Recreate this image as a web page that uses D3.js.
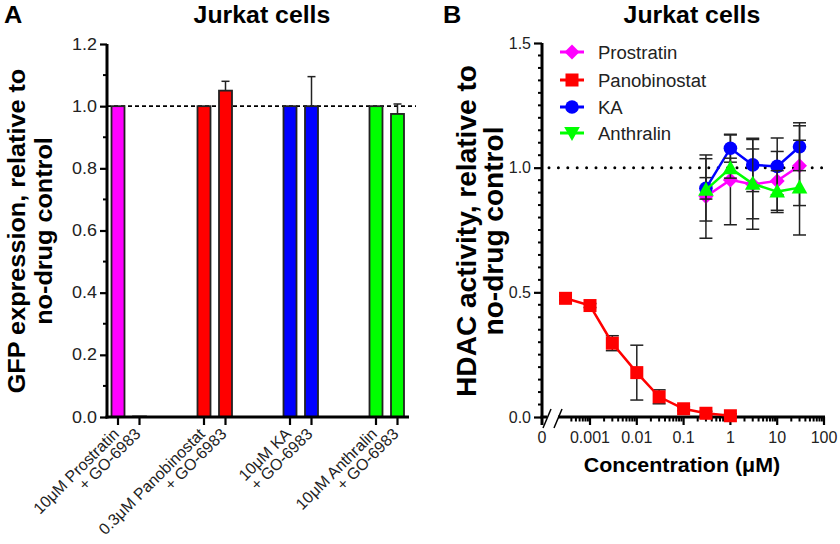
<!DOCTYPE html>
<html><head><meta charset="utf-8">
<script src="https://cdn.jsdelivr.net/npm/d3@7"></script>
<style>
body{margin:0;background:#fff;}
svg{font-family:"Liberation Sans",Arial,Helvetica,sans-serif;}
</style></head>
<body><svg id="c" width="840" height="544"></svg>
<script>
// ---------- Panel A data ----------
const barGroups = ["Prostratin","Panobinostat","KA","Anthralin"];
const barLabels = ["10\u03bcM Prostratin","+ GO-6983","0.3\u03bcM Panobinostat","+ GO-6983","10\u03bcM KA","+ GO-6983","10\u03bcM Anthralin","+ GO-6983"];
const barValues = [1.0, 0.003, 1.0, 1.05, 1.0, 1.0, 1.0, 0.975];
const barErrors = [0, 0, 0, 0.03, 0, 0.095, 0, 0.032];
const groupColors = ["#ff00ff","#ff0000","#0000ff","#00ff00"];
const yTicksA = [0,0.2,0.4,0.6,0.8,1.0,1.2];

// ---------- Panel B data ----------
const seriesNames = ["Prostratin","Panobinostat","KA","Anthralin"];
const seriesColors = ["#ff00ff","#ff0000","#0000ff","#00ff00"];
const concB = [0.3, 1, 3, 10, 30];
const prostratinVals = [0.884, 0.951, 0.933, 0.947, 1.008];
const prostratinErr  = [0.167, 0.18, 0.18, 0.118, 0.16];
const panoConc = [0.0003, 0.001, 0.003, 0.01, 0.03, 0.1, 0.3, 1];
const panoVals = [0.476, 0.447, 0.296, 0.178, 0.081, 0.033, 0.015, 0.005];
const panoErr  = [0.008, 0.008, 0.03, 0.11, 0.028, 0.008, 0.008, 0.008];
const kaVals = [0.917, 1.078, 1.011, 1.005, 1.084];
const kaErr  = [0.043, 0.056, 0.107, 0.114, 0.096];
const anthralinVals = [0.911, 0.998, 0.935, 0.904, 0.920];
const anthralinErr  = [0.125, 0.04, 0.14, 0.084, 0.19];
const yTicksB = [0,0.5,1.0,1.5];
const xTicksB = [0.001,0.01,0.1,1,10,100];
const xTickLabelsB = ["0.001","0.01","0.1","1","10","100"];

const svg = d3.select("#c");
const INK = "#000";

// stretch glyphs horizontally (reference typeface is wider than Arial)
function widen(sel, f){
  sel.each(function(){
    const L = this.getComputedTextLength();
    this.setAttribute("textLength", (L*f).toFixed(2));
    this.setAttribute("lengthAdjust","spacingAndGlyphs");
  });
}

// ================= Panel A =================
const A = svg.append("g");
const yA = d3.scaleLinear().domain([0,1.2]).range([417,44]);
const slotIdx = barValues.map((v,i)=>Math.floor(i/2)*4 + (i%2));
const xA = d3.scaleLinear().domain([0,13]).range([118,397.5]);
const barW = 13;

A.append("line").attr("x1",107).attr("x2",416).attr("y1",yA(1)).attr("y2",yA(1))
 .attr("stroke",INK).attr("stroke-width",1.8).attr("stroke-dasharray","4,3");

A.selectAll("rect.bar").data(barValues).enter().append("rect")
 .attr("x",(d,i)=>xA(slotIdx[i])-barW/2)
 .attr("y",d=>yA(d))
 .attr("width",barW)
 .attr("height",d=>yA(0)-yA(d))
 .attr("fill",(d,i)=>groupColors[Math.floor(i/2)])
 .attr("stroke",(d,i)=>d<0.01?"#888":"#222")
 .attr("stroke-width",1.8);

barValues.forEach((v,i)=>{
  if(barErrors[i]<=0) return;
  const x = xA(slotIdx[i]);
  A.append("line").attr("x1",x).attr("x2",x).attr("y1",yA(v)).attr("y2",yA(v+barErrors[i])).attr("stroke","#222").attr("stroke-width",1.5);
  A.append("line").attr("x1",x-4).attr("x2",x+4).attr("y1",yA(v+barErrors[i])).attr("y2",yA(v+barErrors[i])).attr("stroke","#222").attr("stroke-width",1.5);
});

const yAxisA = d3.axisLeft(yA).tickValues(yTicksA).tickSize(7).tickPadding(3).tickFormat(d3.format(".1f"));
const gyA = A.append("g").attr("transform","translate(107,0)").call(yAxisA);
gyA.select(".domain").attr("stroke",INK).attr("stroke-width",3).attr("d","M0,"+(yA(0)+1.5)+"V"+yA(1.2));
gyA.selectAll(".tick line").attr("stroke",INK).attr("stroke-width",2.2);
gyA.selectAll(".tick text").attr("font-size",16).attr("fill","#222");
widen(gyA.selectAll(".tick text"),1.12);
d3.range(0.1,1.2,0.2).forEach(v=>{
  A.append("line").attr("x1",103).attr("x2",107).attr("y1",yA(v)).attr("y2",yA(v)).attr("stroke",INK).attr("stroke-width",2);
});

A.append("line").attr("x1",105.5).attr("x2",409).attr("y1",yA(0)).attr("y2",yA(0)).attr("stroke",INK).attr("stroke-width",3);
barValues.forEach((v,i)=>{
  const x = xA(slotIdx[i]);
  A.append("line").attr("x1",x).attr("x2",x).attr("y1",yA(0)).attr("y2",yA(0)+8).attr("stroke",INK).attr("stroke-width",2.2);
  A.append("text").attr("transform","translate("+(x+2)+","+(yA(0)+18)+") rotate(-45)")
   .attr("text-anchor","end").attr("font-size",16).attr("fill","#222").text(barLabels[i]);
});

A.append("text").attr("x",4).attr("y",23).attr("font-size",23).attr("font-weight","bold").text("A").call(widen,1.1);
A.append("text").attr("x",262).attr("y",23).attr("text-anchor","middle").attr("font-size",23).attr("font-weight","bold").text("Jurkat cells").call(widen,1.08);
const ylabA = A.append("text").attr("transform","translate(0,231) rotate(-90)").attr("text-anchor","middle").attr("font-size",24).attr("font-weight","bold");
ylabA.append("tspan").attr("x",0).attr("y",25).text("GFP expression, relative to");
ylabA.append("tspan").attr("x",0).attr("y",52).text("no-drug control");
widen(ylabA.selectAll("tspan"),1.05);

// ================= Panel B =================
const B = svg.append("g");
const yB = d3.scaleLinear().domain([0,1.5]).range([417,43]);
const xB = d3.scaleLog().domain([0.001,100]).range([590,824]);
const axisX0 = 542;

B.append("line").attr("x1",549).attr("x2",826).attr("y1",yB(1)).attr("y2",yB(1))
 .attr("stroke",INK).attr("stroke-width",3).attr("stroke-linecap","round").attr("stroke-dasharray","0,9.4");

const yAxisB = d3.axisLeft(yB).tickValues(yTicksB).tickSize(8).tickPadding(3).tickFormat(d3.format(".1f"));
const gyB = B.append("g").attr("transform","translate("+axisX0+",0)").call(yAxisB);
gyB.select(".domain").attr("stroke",INK).attr("stroke-width",3).attr("d","M0,"+(yB(0)+8)+"V"+yB(1.5));
gyB.selectAll(".tick line").attr("stroke",INK).attr("stroke-width",2.2);
gyB.selectAll(".tick text").attr("font-size",16).attr("fill","#222");
d3.range(0.05,1.5,0.05).forEach(v=>{
  if(Math.abs(v*2-Math.round(v*2))<1e-6) return;
  B.append("line").attr("x1",axisX0-4).attr("x2",axisX0).attr("y1",yB(v)).attr("y2",yB(v)).attr("stroke",INK).attr("stroke-width",2);
});

const y0 = yB(0);
B.append("line").attr("x1",axisX0-1.5).attr("x2",547).attr("y1",y0).attr("y2",y0).attr("stroke",INK).attr("stroke-width",3);
B.append("line").attr("x1",558).attr("x2",825).attr("y1",y0).attr("y2",y0).attr("stroke",INK).attr("stroke-width",3);
B.append("line").attr("x1",543).attr("x2",551).attr("y1",y0+11).attr("y2",y0-8).attr("stroke",INK).attr("stroke-width",1.5);
B.append("line").attr("x1",554).attr("x2",562).attr("y1",y0+11).attr("y2",y0-8).attr("stroke",INK).attr("stroke-width",1.5);
B.append("text").attr("x",axisX0).attr("y",443).attr("text-anchor","middle").attr("font-size",16).attr("fill","#222").text("0");
xTicksB.forEach((t,i)=>{
  B.append("line").attr("x1",xB(t)).attr("x2",xB(t)).attr("y1",y0).attr("y2",y0+8).attr("stroke",INK).attr("stroke-width",2.2);
  B.append("text").attr("x",xB(t)).attr("y",443).attr("text-anchor","middle").attr("font-size",16).attr("fill","#222").text(xTickLabelsB[i]);
});
[0.0001,0.001,0.01,0.1,1,10].forEach(dec=>{
  for(let m=2;m<=9;m++){
    const v=dec*m;
    if(v<0.00035||v>100) continue;
    B.append("line").attr("x1",xB(v)).attr("x2",xB(v)).attr("y1",y0).attr("y2",y0+4.5).attr("stroke",INK).attr("stroke-width",2);
  }
});

function sym(type, g, x, y, color){
  if(type==="diamond"){
    g.append("path").attr("d",`M${x},${y-7.5}L${x+7.5},${y}L${x},${y+7.5}L${x-7.5},${y}Z`).attr("fill",color);
  } else if(type==="square"){
    g.append("rect").attr("x",x-6.5).attr("y",y-6.5).attr("width",13).attr("height",13).attr("fill",color);
  } else if(type==="circle"){
    g.append("circle").attr("cx",x).attr("cy",y).attr("r",6.8).attr("fill",color);
  } else if(type==="triUp"){
    g.append("path").attr("d",`M${x},${y-8}L${x+7.8},${y+6}L${x-7.8},${y+6}Z`).attr("fill",color);
  } else if(type==="triDown"){
    g.append("path").attr("d",`M${x},${y+8}L${x+7.8},${y-6}L${x-7.8},${y-6}Z`).attr("fill",color);
  }
}

const seriesData = [
  {name:seriesNames[0], color:seriesColors[0], xs:concB, ys:prostratinVals, es:prostratinErr, sym:"diamond", leg:"diamond"},
  {name:seriesNames[1], color:seriesColors[1], xs:panoConc, ys:panoVals, es:panoErr, sym:"square", leg:"square"},
  {name:seriesNames[2], color:seriesColors[2], xs:concB, ys:kaVals, es:kaErr, sym:"circle", leg:"circle"},
  {name:seriesNames[3], color:seriesColors[3], xs:concB, ys:anthralinVals, es:anthralinErr, sym:"triUp", leg:"triDown"}
];

const line = d3.line().x(d=>xB(d[0])).y(d=>yB(d[1]));
seriesData.forEach(s=>{
  const g = B.append("g");
  const pts = s.xs.map((x,i)=>[x,s.ys[i],s.es[i]]);
  pts.forEach(p=>{
    const x=xB(p[0]);
    g.append("line").attr("x1",x).attr("x2",x).attr("y1",yB(p[1]-p[2])).attr("y2",yB(p[1]+p[2])).attr("stroke","#222").attr("stroke-width",1.5);
    [p[1]-p[2],p[1]+p[2]].forEach(v=>g.append("line").attr("x1",x-6.5).attr("x2",x+6.5).attr("y1",yB(v)).attr("y2",yB(v)).attr("stroke","#222").attr("stroke-width",1.5));
  });
  g.append("path").attr("d",line(pts)).attr("fill","none").attr("stroke",s.color).attr("stroke-width",2.5);
  pts.forEach(p=>sym(s.sym,g,xB(p[0]),yB(p[1]),s.color));
});

const legY = [52,80,107,133];
seriesData.forEach((s,i)=>{
  B.append("line").attr("x1",560).attr("x2",584).attr("y1",legY[i]).attr("y2",legY[i]).attr("stroke",s.color).attr("stroke-width",3);
  sym(s.leg,B,572,legY[i],s.color);
  B.append("text").attr("x",598).attr("y",legY[i]+6.5).attr("font-size",18).attr("fill","#222").text(s.name).call(widen,1.03);
});

B.append("text").attr("x",443).attr("y",23).attr("font-size",23).attr("font-weight","bold").text("B").call(widen,1.1);
B.append("text").attr("x",692).attr("y",23).attr("text-anchor","middle").attr("font-size",23).attr("font-weight","bold").text("Jurkat cells").call(widen,1.08);
const ylabB = B.append("text").attr("transform","translate(0,231) rotate(-90)").attr("text-anchor","middle").attr("font-size",27).attr("font-weight","bold");
ylabB.append("tspan").attr("x",0).attr("y",476).text("HDAC activity, relative to");
ylabB.append("tspan").attr("x",0).attr("y",503).text("no-drug control");
widen(ylabB.selectAll("tspan"),1.04);
B.append("text").attr("x",682).attr("y",472).attr("text-anchor","middle").attr("font-size",21).attr("font-weight","bold").text("Concentration (\u03bcM)").call(widen,1.02);
</script></body></html>
